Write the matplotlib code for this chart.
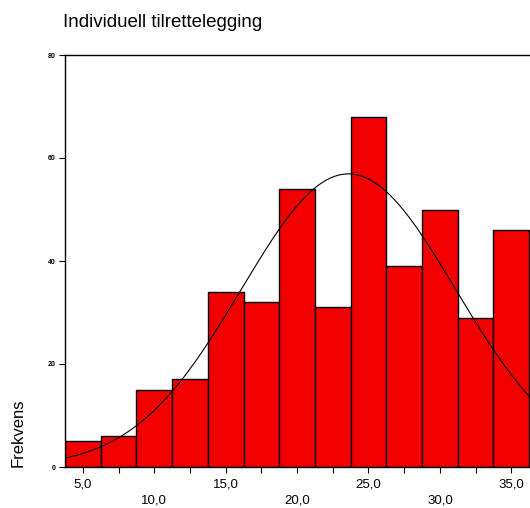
import numpy as np
import matplotlib
matplotlib.use('Agg')
import matplotlib.pyplot as plt

# Histogram data
bin_centers = [5.0, 7.5, 10.0, 12.5, 15.0, 17.5, 20.0, 22.5, 25.0, 27.5, 30.0, 32.5, 35.0]
counts = [5, 6, 15, 17, 34, 32, 54, 31, 68, 39, 50, 29, 46]
bin_width = 2.5

# Normal curve parameters (as drawn by SPSS)
curve_mean = 23.6
curve_sd = 7.5
curve_n = 428

x_labels = ['5,0', '10,0', '15,0', '20,0', '25,0', '30,0', '35,0']
x_label_pos = [5, 10, 15, 20, 25, 30, 35]
y_ticks = [0, 20, 40, 60, 80]

W, H = 530, 508
fig = plt.figure(figsize=(W / 100, H / 100), dpi=100)

# axes runs off the right edge of the picture, like the reference
left_px, bottom_px, top_px = 65, 467, 55
x_min, x_max = 3.75, 37.5
px_per_unit = 35.7 / 2.5
ax = fig.add_axes([left_px / W, (H - bottom_px) / H,
                   (x_max - x_min) * px_per_unit / W, (bottom_px - top_px) / H])

ax.bar(bin_centers, counts, width=bin_width, color='#f20000', edgecolor='black',
       linewidth=1.0, zorder=2)

xs = np.linspace(x_min, x_max, 300)
ys = curve_n * bin_width / (curve_sd * np.sqrt(2 * np.pi)) * np.exp(-0.5 * ((xs - curve_mean) / curve_sd) ** 2)
ax.plot(xs, ys, color='black', linewidth=0.8, zorder=3)

ax.set_xlim(x_min, x_max)
ax.set_ylim(0, 80)

for side in ['left', 'top', 'bottom']:
    ax.spines[side].set_linewidth(1.0)
ax.spines['right'].set_visible(False)

ax.set_yticks(y_ticks)
ax.set_yticklabels([str(v) for v in y_ticks], fontsize=5, fontweight='bold',
                   family=['Liberation Sans', 'DejaVu Sans'])
ax.tick_params(axis='y', length=4, width=0.8, pad=3)

ax.set_xticks(x_label_pos)
ax.set_xticks([p + 2.5 for p in x_label_pos], minor=True)
ax.set_xticklabels(x_labels, fontsize=9.5, family=['Liberation Sans', 'DejaVu Sans'])
ax.tick_params(axis='x', which='both', length=4, width=0.8)
for i, tick in enumerate(ax.xaxis.get_major_ticks()):
    tick.set_pad(4 if i % 2 == 0 else 16)

fig.text(63 / W, 1 - 27 / H, 'Individuell tilrettelegging', fontsize=13.5,
         family=['Liberation Sans Narrow', 'Liberation Sans', 'DejaVu Sans'],
         ha='left', va='baseline')

fig.text(18 / W, (H - bottom_px) / H, 'Frekvens', rotation=90, fontsize=12,
         family=['Liberation Sans', 'DejaVu Sans'], ha='center', va='bottom')

fig.savefig('out.png', dpi=100)
